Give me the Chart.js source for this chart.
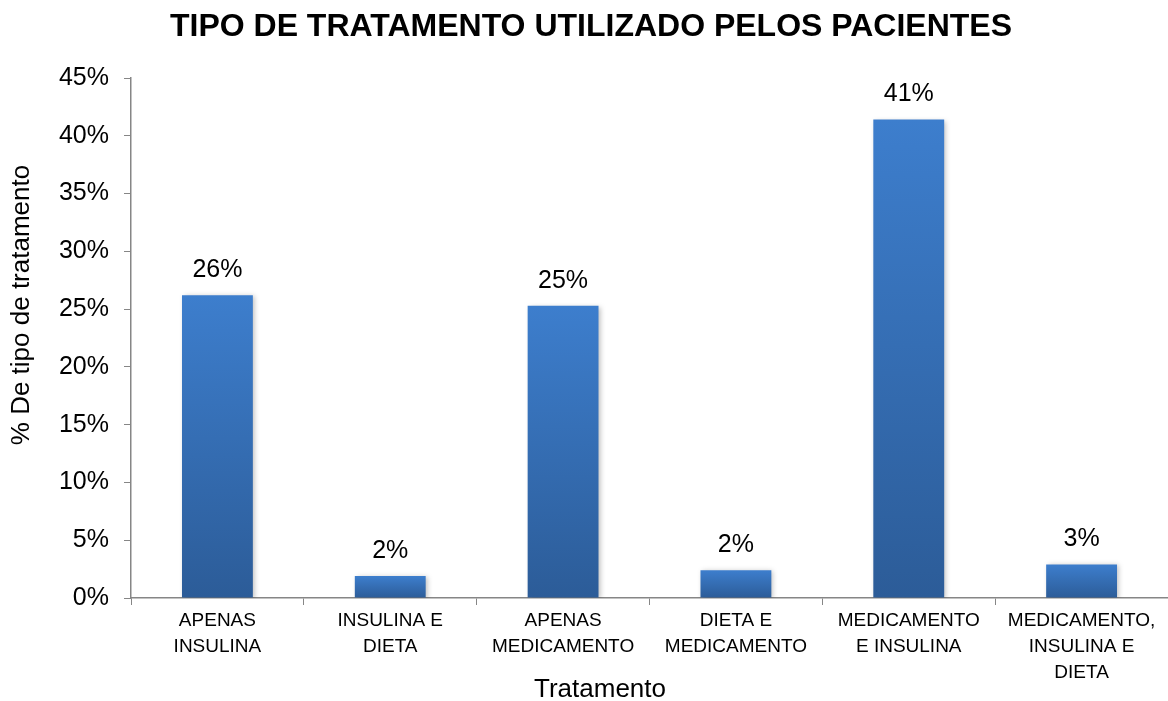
<!DOCTYPE html>
<html>
<head>
<meta charset="utf-8">
<script src="https://cdn.jsdelivr.net/npm/chart.js@4/dist/chart.umd.min.js"></script>
<style>
  html, body { margin: 0; padding: 0; background: #fff; }
  #box { width: 1168px; height: 701px; }
</style>
</head>
<body>
<div id="box"><canvas id="myChart"></canvas></div>
<script>
const chartTitle = 'TIPO DE TRATAMENTO UTILIZADO PELOS PACIENTES';
const xTitle = 'Tratamento';
const yTitle = '% De tipo de tratamento';
const categories = [
    ['APENAS', 'INSULINA'],
    ['INSULINA E', 'DIETA'],
    ['APENAS', 'MEDICAMENTO'],
    ['DIETA E', 'MEDICAMENTO'],
    ['MEDICAMENTO', 'E INSULINA'],
    ['MEDICAMENTO,', 'INSULINA E', 'DIETA']
];
const percentValues = [26.2, 1.9, 25.3, 2.4, 41.4, 2.9];
const valueLabels = ['26%', '2%', '25%', '2%', '41%', '3%'];
const yTicks = [0, 5, 10, 15, 20, 25, 30, 35, 40, 45];

const fontName = '"Liberation Sans", Arial, sans-serif';
Chart.defaults.font.family = fontName;
Chart.defaults.color = '#000';

// gradient for each bar, light on top and darker at the base
function barGradient(context) {
    var chart = context.chart;
    var y = chart.scales.y;
    if (!y || context.dataIndex === undefined) return '#3a78c3';
    var top = y.getPixelForValue(context.raw);
    var bottom = y.getPixelForValue(0);
    if (!isFinite(top) || !isFinite(bottom) || top === bottom) return '#3a78c3';
    var g = chart.ctx.createLinearGradient(0, top, 0, bottom);
    g.addColorStop(0, '#3d7ecd');
    g.addColorStop(1, '#2c5c98');
    return g;
}

// titles are placed where the original had them (not centred on the plot)
const titlePlugin = {
    id: 'titles',
    afterDraw(chart) {
        var ctx = chart.ctx;
        ctx.save();
        ctx.fillStyle = '#000';
        ctx.textAlign = 'center';
        ctx.textBaseline = 'middle';
        ctx.font = 'bold 32px ' + fontName;
        ctx.fillText(chartTitle, 591, 27);
        ctx.font = '26px ' + fontName;
        ctx.fillText(xTitle, 600, 690);
        ctx.translate(22, 305);
        ctx.rotate(-Math.PI / 2);
        ctx.fillText(yTitle, 0, 0);
        ctx.restore();
    }
};

const shadowPlugin = {
    id: 'barShadow',
    beforeDatasetsDraw(chart) {
        chart.ctx.save();
        chart.ctx.shadowColor = 'rgba(0,0,0,0.25)';
        chart.ctx.shadowBlur = 5;
        chart.ctx.shadowOffsetX = 2;
        chart.ctx.shadowOffsetY = 1;
    },
    afterDatasetsDraw(chart) {
        chart.ctx.restore();
    }
};

const labelPlugin = {
    id: 'valueLabels',
    afterDatasetsDraw(chart) {
        var ctx = chart.ctx;
        var meta = chart.getDatasetMeta(0);
        ctx.save();
        ctx.font = '25px ' + fontName;
        ctx.fillStyle = '#000';
        ctx.textAlign = 'center';
        ctx.textBaseline = 'middle';
        meta.data.forEach((bar, i) => {
            ctx.fillText(valueLabels[i], bar.x, bar.y - 25);
        });
        ctx.restore();
    }
};

var ctx = document.getElementById('myChart').getContext('2d');
var myChart = new Chart(ctx, {
    type: 'bar',
    data: {
        labels: categories,
        datasets: [{
            label: 'Tratamento',
            data: percentValues,
            backgroundColor: barGradient,
            borderWidth: 0,
            categoryPercentage: 1,
            barPercentage: 0.41
        }]
    },
    options: {
        responsive: true,
        maintainAspectRatio: false,
        animation: false,
        layout: { padding: { top: 78, right: 0, left: 0, bottom: 0 } },
        plugins: {
            legend: { display: false },
            tooltip: { enabled: false },
            title: { display: false }
        },
        scales: {
            x: {
                grid: {
                    drawOnChartArea: false,
                    drawTicks: true,
                    tickLength: 7,
                    color: '#868686',
                    offset: true
                },
                border: { color: '#868686', width: 1.5 },
                ticks: {
                    font: { size: 19, lineHeight: 1.37 },
                    color: '#000',
                    maxRotation: 0,
                    autoSkip: false,
                    padding: 3
                },
                afterFit(scale) { scale.height = 103; }
            },
            y: {
                min: 0,
                max: 45,
                afterBuildTicks(scale) {
                    scale.ticks = yTicks.map(v => ({ value: v }));
                },
                grid: {
                    drawOnChartArea: false,
                    drawTicks: true,
                    tickLength: 7,
                    color: '#868686'
                },
                border: { color: '#868686', width: 1.5 },
                ticks: {
                    font: { size: 25 },
                    color: '#000',
                    padding: 15,
                    callback: v => v + '%'
                },
                afterFit(scale) { scale.width = 131; }
            }
        }
    },
    plugins: [shadowPlugin, labelPlugin, titlePlugin]
});
</script>
</body>
</html>
